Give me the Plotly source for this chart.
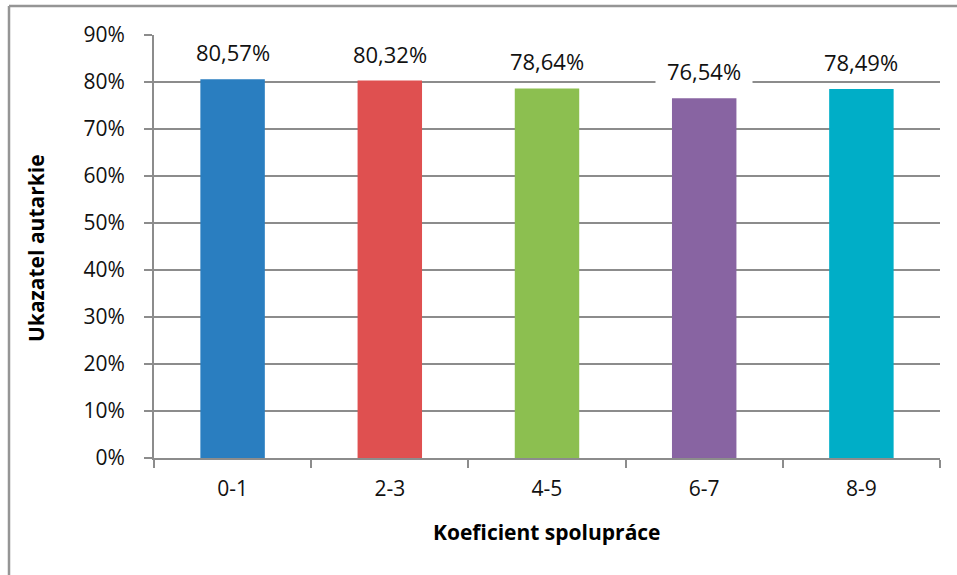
import plotly.graph_objects as go

categories = ["0-1", "2-3", "4-5", "6-7", "8-9"]
values = [80.57, 80.32, 78.64, 76.54, 78.49]
labels = ["80,57%", "80,32%", "78,64%", "76,54%", "78,49%"]
colors = ["#2A7EC0", "#DF5050", "#8CBF50", "#8864A2", "#00AEC7"]
y_ticks = [0, 10, 20, 30, 40, 50, 60, 70, 80, 90]
y_tick_text = ["0%", "10%", "20%", "30%", "40%", "50%", "60%", "70%", "80%", "90%"]

FONT = "Open Sans"
GRAY = "#8C8C8C"

fig = go.Figure()
fig.add_trace(go.Bar(x=categories, y=values, marker=dict(color=colors, line=dict(width=0)),
                     width=0.41, hoverinfo="skip"))

for c, v, t in zip(categories, values, labels):
    fig.add_annotation(x=c, y=v, text=t, showarrow=False, yanchor="middle", yshift=27,
                       bgcolor="white", borderpad=1, width=94, height=34,
                       font=dict(family=FONT, size=22, color="#111111"))

fig.add_annotation(xref="paper", yref="paper", x=(547 - 154) / 786, y=(458 - 532) / 423,
                   text="<b>Koeficient spolupráce</b>", showarrow=False,
                   xanchor="center", yanchor="middle",
                   font=dict(family=FONT, size=21, color="#000000"))
fig.add_annotation(xref="paper", yref="paper", x=(36 - 154) / 786, y=(458 - 248) / 423,
                   text="<b>Ukazatel autarkie</b>", showarrow=False, textangle=-90,
                   xanchor="center", yanchor="middle",
                   font=dict(family=FONT, size=21, color="#000000"))

# outer chart border (left and top edges visible in the crop)
fig.add_shape(type="line", xref="paper", yref="paper",
              x0=(9 - 154) / 786, x1=(957 - 154) / 786,
              y0=1, y1=1, ysizemode="pixel", yanchor=1,
              line=dict(color="#959595", width=2.5))
fig.add_shape(type="line", xref="paper", yref="paper",
              x0=(9 - 154) / 786, x1=(9 - 154) / 786,
              y0=(458 - 6) / 423, y1=(458 - 600) / 423,
              line=dict(color="#959595", width=2.5))

fig.update_layout(
    width=957, height=575,
    margin=dict(l=154, r=17, t=35, b=117),
    paper_bgcolor="white", plot_bgcolor="white",
    showlegend=False,
    font=dict(family=FONT, size=21, color="#111111"),
    xaxis=dict(
        type="category", range=[-0.5, 4.5],
        showline=True, linecolor=GRAY, linewidth=2,
        ticks="outside", tickson="boundaries", ticklen=8, tickwidth=2, tickcolor=GRAY,
        showgrid=False, ticklabelstandoff=11,
        tickfont=dict(family=FONT, size=21, color="#111111"),
    ),
    yaxis=dict(
        range=[0, 90], tickvals=y_ticks, ticktext=y_tick_text,
        showline=True, linecolor=GRAY, linewidth=2,
        ticks="outside", ticklen=8, tickwidth=2, tickcolor=GRAY,
        showgrid=True, gridcolor=GRAY, gridwidth=2, zeroline=False,
        ticklabelstandoff=15,
        tickfont=dict(family=FONT, size=21, color="#111111"),
    ),
)
fig.update_shapes(selector=0, y0=29, y1=29)

fig.write_html("out.html", config={"displayModeBar": False},
               post_script="document.body.style.margin='0';")
